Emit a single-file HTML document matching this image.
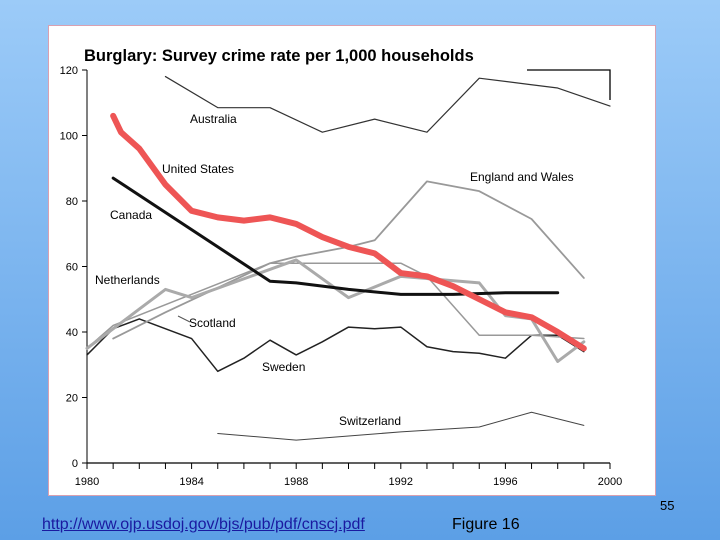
<!DOCTYPE html>
<html><head><meta charset="utf-8"><style>
body{margin:0;width:720px;height:540px;overflow:hidden;background:linear-gradient(#9ccbf8,#5c9fe6);font-family:"Liberation Sans",sans-serif;position:relative}
#panel{position:absolute;left:48px;top:25px;width:606px;height:469px;background:#fff;border:1px solid #d9a0b0}
.t{position:absolute;font-size:16px;color:#000}
</style></head><body>
<div id="panel"></div>
<svg id="chart" width="720" height="540" style="position:absolute;left:0;top:0" font-family="Liberation Sans, sans-serif"></svg>
<div class="t" style="left:660px;top:498px;font-size:13px">55</div>
<div class="t" style="left:42px;top:516px;color:#1a1aa0;text-decoration:underline">http://www.ojp.usdoj.gov/bjs/pub/pdf/cnscj.pdf</div>
<div class="t" style="left:452px;top:516px">Figure 16</div>
<script>
const yearsTicks=[1980,1984,1988,1992,1996,2000];
const yTicks=[0,20,40,60,80,100,120];
const ausX=[1983,1985,1987,1989,1991,1993,1995,1997,1998,2000];
const ausY=[118,108.5,108.5,101,105,101,117.5,115.5,114.5,109];
const usX=[1981,1981.3,1982,1983,1984,1985,1986,1987,1988,1989,1990,1991,1992,1993,1994,1995,1996,1997,1998,1999];
const usY=[106,101,96,85,77,75,74,75,73,69,66,64,58,57,54,50,46,44.5,40,35];
const canX=[1981,1987,1988,1990,1992,1994,1996,1998];
const canY=[87,55.5,55,53,51.5,51.5,52,52];
const ewX=[1981,1983,1987,1988,1990,1991,1993,1995,1997,1999];
const ewY=[38,46,61,63,66,68,86,83,74.5,56.5];
const nlX=[1980,1982,1983,1984,1988,1990,1992,1995,1996,1997,1998,1999];
const nlY=[35,47,53,50.5,62,50.5,57,55,45,44,31,37];
const scX=[1980,1981,1987,1992,1993,1995,1997,1999];
const scY=[35,42,61,61,57,39,39,38];
const swX=[1980,1981,1982,1984,1985,1986,1987,1988,1989,1990,1991,1992,1993,1994,1995,1996,1997,1998,1999];
const swY=[33,41,44,38,28,32,37.5,33,37,41.5,41,41.5,35.5,34,33.5,32,39,39,34];
const chX=[1985,1988,1992,1995,1997,1999];
const chY=[9,7,9.5,11,15.5,11.5];
const NS='http://www.w3.org/2000/svg';
const svg=document.getElementById('chart');
const xs=y=>87+(y-1980)*(610-87)/20;
const ys=v=>463-v*(463-70)/120;
function mk(t,a){const e=document.createElementNS(NS,t);for(const k in a)e.setAttribute(k,a[k]);svg.appendChild(e);return e;}
function line(X,Y,col,w,name){const e=mk('polyline',{points:X.map((x,i)=>xs(x)+','+ys(Y[i])).join(' '),fill:'none',stroke:col,'stroke-width':w,'stroke-linejoin':'round','stroke-linecap':'round'});

}
function txt(x,y,s,size,name,anchor,weight){const e=mk('text',{x:x,y:y,'font-size':size,'text-anchor':anchor||'start','font-weight':weight||'normal'});e.textContent=s;

}
txt(84,61,'Burglary: Survey crime rate per 1,000 households',16.5,'chart-title','start','bold');
mk('line',{x1:87,y1:70,x2:87,y2:463,stroke:'#000','stroke-width':1});
mk('line',{x1:87,y1:463,x2:610,y2:463,stroke:'#000','stroke-width':1.3});
mk('polyline',{points:'527,70 610,70 610,100',fill:'none',stroke:'#000','stroke-width':1.3});
yTicks.forEach(v=>{mk('line',{x1:82,y1:ys(v),x2:87,y2:ys(v),stroke:'#000'});txt(78,ys(v)+4,String(v),11,'y-tick-label','end');});
for(let y=1980;y<=2000;y++)mk('line',{x1:xs(y),y1:463,x2:xs(y),y2:469,stroke:'#000'});
yearsTicks.forEach(y=>txt(xs(y),485,String(y),11,'x-tick-label','middle'));
line(chX,chY,'#444',1,'switzerland-line');
line(swX,swY,'#222',1.5,'sweden-line');
line(scX,scY,'#999',1.5,'scotland-line');
line(ewX,ewY,'#999',1.8,'england-wales-line');
line(nlX,nlY,'#aaa',3,'netherlands-line');
line(canX,canY,'#111',3,'canada-line');
line(ausX,ausY,'#333',1.2,'australia-line');
line(usX,usY,'#ee5555',6,'united-states-line');
txt(190,123,'Australia',12,'label-australia');
txt(162,173,'United States',12,'label-us');
txt(110,219,'Canada',12,'label-canada');
txt(470,181,'England and Wales',12,'label-england-wales');
txt(95,284,'Netherlands',12,'label-netherlands');
txt(189,327,'Scotland',12,'label-scotland');
txt(262,371,'Sweden',12,'label-sweden');
txt(339,425,'Switzerland',12,'label-switzerland');
mk('line',{x1:178,y1:316,x2:190,y2:322,stroke:'#555'});
</script>
</body></html>
